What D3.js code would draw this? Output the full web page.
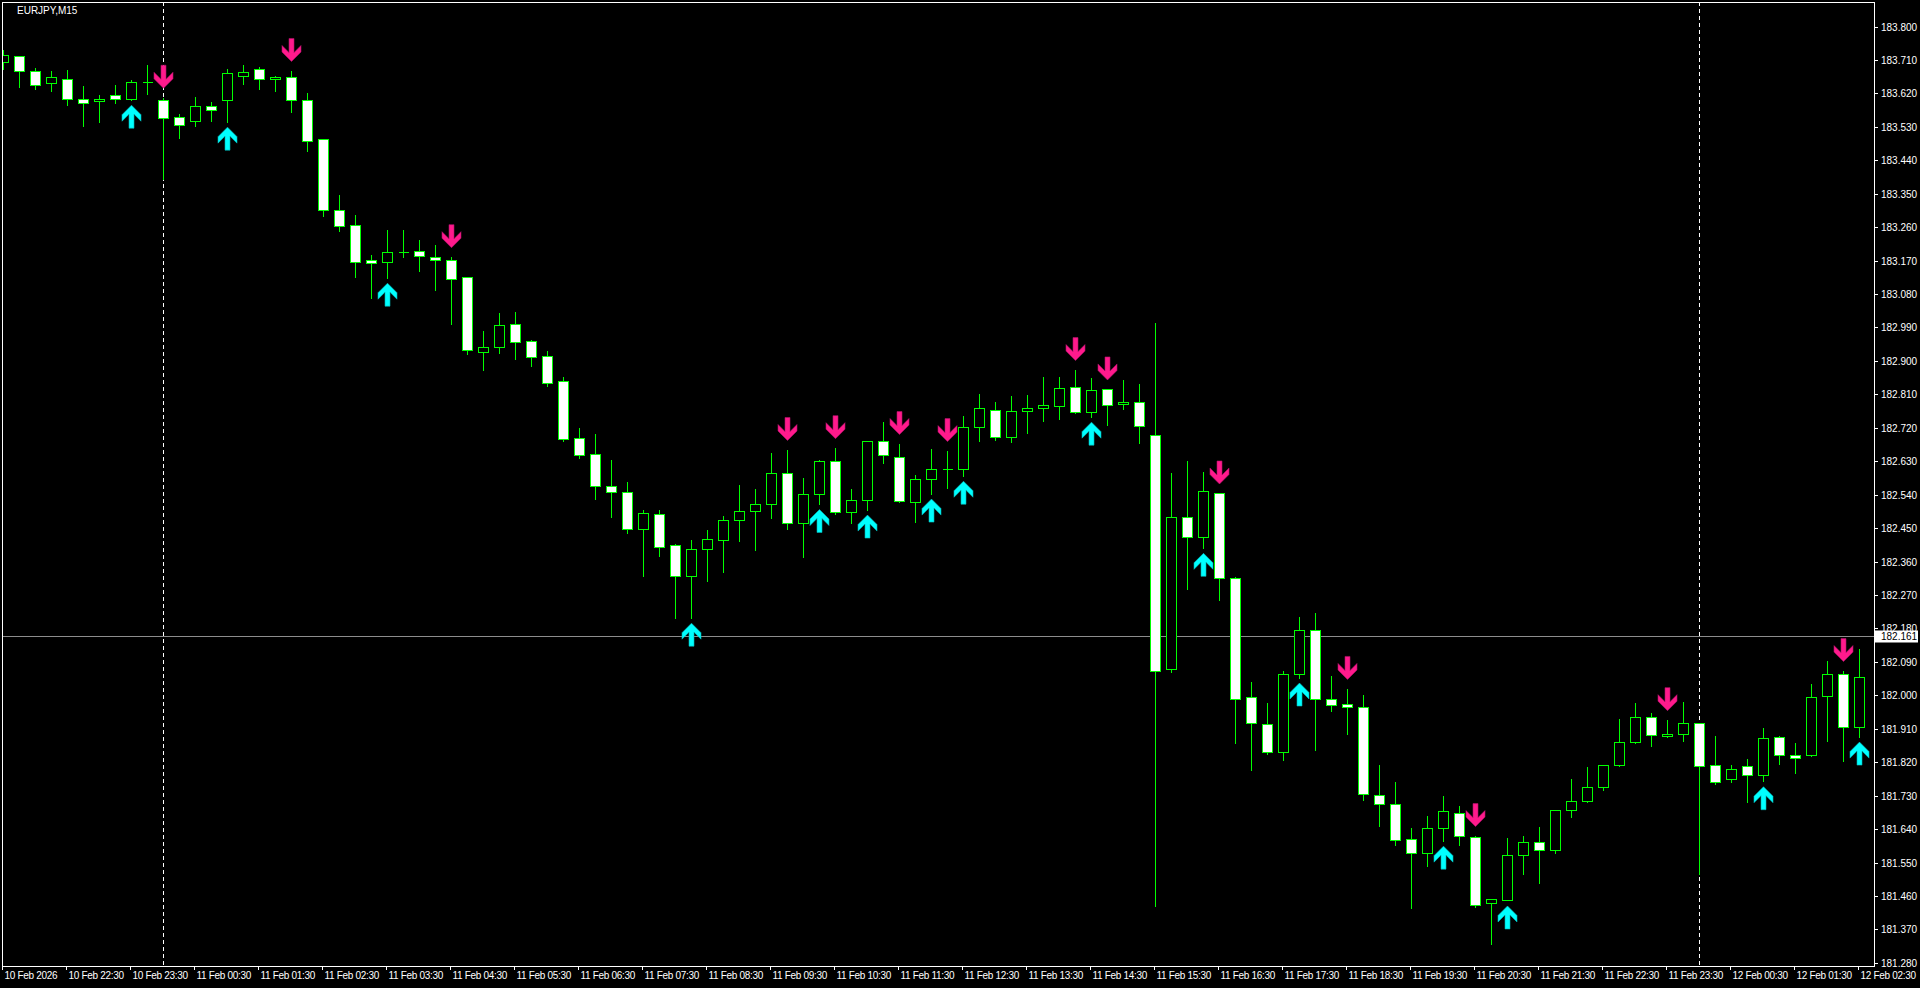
<!DOCTYPE html>
<html><head><meta charset="utf-8">
<script src="https://cdn.jsdelivr.net/npm/d3@7"></script>
<style>html,body{margin:0;padding:0;background:#000;overflow:hidden}svg{display:block}</style>
</head><body>
<svg id="c" width="1920" height="988"></svg>
<script>
const symbolLabel = "EURJPY,M15";
const opens = [183.704,183.721,183.679,183.647,183.658,183.604,183.599,183.615,183.604,183.650,183.601,183.556,183.545,183.585,183.603,183.666,183.685,183.658,183.663,183.601,183.496,183.305,183.265,183.171,183.165,183.194,183.195,183.179,183.171,183.125,182.925,182.938,182.999,182.953,182.913,182.845,182.692,182.649,182.563,182.547,182.449,182.487,182.404,182.322,182.395,182.417,182.471,182.495,182.514,182.598,182.463,182.541,182.630,182.493,182.525,182.684,182.642,182.520,182.582,182.608,182.608,182.721,182.767,182.696,182.765,182.773,182.778,182.829,182.762,182.824,182.783,182.789,182.700,182.070,182.479,182.425,182.544,182.315,181.995,181.922,181.847,182.057,182.175,181.990,181.976,181.968,181.731,181.707,181.613,181.575,181.642,181.683,181.618,181.441,181.449,181.570,181.605,181.583,181.691,181.715,181.753,181.812,181.874,181.941,181.890,181.895,181.925,181.812,181.774,181.809,181.785,181.887,181.839,181.839,181.998,182.057,181.914];
const highs = [183.739,183.723,183.691,183.683,183.686,183.643,183.618,183.645,183.658,183.699,183.611,183.567,183.613,183.600,183.688,183.699,183.694,183.669,183.683,183.624,183.497,183.349,183.295,183.188,183.255,183.255,183.228,183.215,183.182,183.129,182.983,183.032,183.034,182.959,182.929,182.859,182.722,182.706,182.636,182.577,182.502,182.502,182.410,182.421,182.448,182.485,182.569,182.558,182.655,182.663,182.588,182.636,182.668,182.558,182.687,182.738,182.679,182.596,182.666,182.660,182.755,182.814,182.792,182.808,182.811,182.859,182.859,182.878,182.857,182.826,182.851,182.841,183.004,182.601,182.633,182.605,182.546,182.322,182.039,181.982,182.068,182.214,182.224,182.055,182.020,182.004,181.815,181.770,181.646,181.678,181.732,181.705,181.624,181.452,181.619,181.624,181.649,181.692,181.778,181.810,181.815,181.939,181.982,181.955,181.936,181.985,181.927,181.893,181.815,181.831,181.915,181.893,181.874,182.033,182.095,182.068,182.128];
const lows = [183.685,183.638,183.633,183.627,183.590,183.533,183.544,183.595,183.603,183.619,183.389,183.501,183.533,183.547,183.544,183.645,183.633,183.627,183.571,183.466,183.291,183.251,183.127,183.069,183.124,183.181,183.143,183.092,183.000,182.919,182.876,182.922,182.906,182.887,182.833,182.685,182.640,182.529,182.481,182.438,182.322,182.376,182.209,182.209,182.309,182.333,182.416,182.392,182.478,182.449,182.371,182.515,182.489,182.465,182.500,182.626,182.520,182.467,182.543,182.559,182.591,182.685,182.688,182.683,182.707,182.739,182.745,182.761,182.750,182.728,182.771,182.680,181.432,182.062,182.285,182.397,182.256,181.873,181.798,181.843,181.825,182.048,181.854,181.957,181.897,181.719,181.649,181.597,181.429,181.542,181.609,181.596,181.431,181.332,181.448,181.518,181.496,181.577,181.672,181.713,181.746,181.811,181.873,181.865,181.889,181.878,181.519,181.761,181.766,181.714,181.769,181.815,181.792,181.838,181.876,181.823,181.889];
const closes = [183.723,183.681,183.643,183.663,183.604,183.593,183.604,183.604,183.650,183.650,183.553,183.534,183.585,183.574,183.675,183.678,183.658,183.664,183.601,183.491,183.305,183.264,183.165,183.163,183.192,183.194,183.182,183.171,183.120,182.929,182.938,182.996,182.952,182.910,182.841,182.691,182.648,182.564,182.547,182.449,182.490,182.399,182.321,182.393,182.420,182.471,182.495,182.514,182.598,182.465,182.541,182.630,182.493,182.525,182.684,182.646,182.522,182.582,182.608,182.608,182.721,182.773,182.696,182.765,182.773,182.781,182.826,182.762,182.821,182.781,182.789,182.724,182.065,182.479,182.425,182.549,182.317,181.990,181.925,181.847,182.057,182.175,181.990,181.973,181.968,181.734,181.707,181.610,181.575,181.642,181.688,181.621,181.435,181.451,181.570,181.605,181.583,181.691,181.715,181.753,181.812,181.874,181.941,181.893,181.895,181.925,181.809,181.766,181.801,181.785,181.885,181.839,181.831,181.995,182.057,181.914,182.049];
const upArrowBars = [8,14,24,43,51,54,58,60,68,75,81,90,94,110,116];
const downArrowBars = [10,18,28,49,52,56,59,67,69,76,84,92,104,115];
const daySeparatorBars = [10,106];
const priceTickLabels = ["183.800","183.710","183.620","183.530","183.440","183.350","183.260","183.170","183.080","182.990","182.900","182.810","182.720","182.630","182.540","182.450","182.360","182.270","182.180","182.090","182.000","181.910","181.820","181.730","181.640","181.550","181.460","181.370","181.280"];
const timeTickLabels = ["10 Feb 2026","10 Feb 22:30","10 Feb 23:30","11 Feb 00:30","11 Feb 01:30","11 Feb 02:30","11 Feb 03:30","11 Feb 04:30","11 Feb 05:30","11 Feb 06:30","11 Feb 07:30","11 Feb 08:30","11 Feb 09:30","11 Feb 10:30","11 Feb 11:30","11 Feb 12:30","11 Feb 13:30","11 Feb 14:30","11 Feb 15:30","11 Feb 16:30","11 Feb 17:30","11 Feb 18:30","11 Feb 19:30","11 Feb 20:30","11 Feb 21:30","11 Feb 22:30","11 Feb 23:30","12 Feb 00:30","12 Feb 01:30","12 Feb 02:30"];
const barsPerTimeLabel = 4;
const currentPrice = 182.161;

const FONT = "'Liberation Sans', Arial, sans-serif";
const svg = d3.select("#c");
svg.append("rect").attr("width",1920).attr("height",988).attr("fill","#000");

const frame = {l:2, t:2, r:1874, b:966};
const n = opens.length;
const x = d3.scaleLinear().domain([0, n-1]).range([3.5, 3.5 + 16*(n-1)]);
const y = d3.scaleLinear().domain([181.280, 183.800]).range([962.9, 26.5]);
const py = v => Math.round(y(v)) + 0.5;

svg.append("clipPath").attr("id","clip").append("rect")
  .attr("x",frame.l+1).attr("y",frame.t+1).attr("width",frame.r-frame.l-1).attr("height",frame.b-frame.t-1);
const plot = svg.append("g").attr("clip-path","url(#clip)");

// day separators
plot.selectAll("line.sep").data(daySeparatorBars).join("line")
  .attr("x1",d=>x(d)).attr("x2",d=>x(d)).attr("y1",frame.t).attr("y2",frame.b)
  .attr("stroke","#fff").attr("stroke-width",1).attr("stroke-dasharray","4,3");

// current price line
plot.append("line").attr("x1",frame.l).attr("x2",frame.r)
  .attr("y1",py(currentPrice)).attr("y2",py(currentPrice))
  .attr("stroke","#8c8c8c").attr("stroke-width",1);

const bars = d3.range(n);
// wicks
plot.selectAll("line.wick").data(bars).join("line")
  .attr("x1",i=>x(i)).attr("x2",i=>x(i))
  .attr("y1",i=>py(highs[i])).attr("y2",i=>py(lows[i]))
  .attr("stroke","#00ff00").attr("stroke-width",1).attr("shape-rendering","crispEdges");
// bodies
plot.selectAll("path.body").data(bars).join("path")
  .attr("d",i=>{
    const a = py(opens[i]), b = py(closes[i]);
    const t = Math.min(a,b), bt = Math.max(a,b);
    const c = x(i);
    return `M${c-5},${t}H${c+5}V${bt}H${c-5}Z`;
  })
  .attr("fill",i=> closes[i] < opens[i] ? "#fff" : "#000")
  .attr("stroke","#00ff00").attr("stroke-width",1).attr("shape-rendering","crispEdges");

// arrows
const upShape = "M0,0L9.5,9.5L9.5,16L2.5,9L2.5,23L-2.5,23L-2.5,9L-9.5,16L-9.5,9.5Z";
plot.selectAll("path.up").data(upArrowBars).join("path")
  .attr("d",upShape)
  .attr("transform",i=>`translate(${x(i)},${y(lows[i])+5.5})`)
  .attr("fill","#00ffff").attr("stroke","#00b4b4").attr("stroke-width",0.6);
plot.selectAll("path.dn").data(downArrowBars).join("path")
  .attr("d",upShape)
  .attr("transform",i=>`translate(${x(i)},${y(highs[i])-8.5}) scale(1,-1)`)
  .attr("fill","#ff1a8c").attr("stroke","#b0106a").attr("stroke-width",0.6);

// frame
svg.append("rect").attr("x",frame.l+0.5).attr("y",frame.t+0.5)
  .attr("width",frame.r-frame.l).attr("height",frame.b-frame.t)
  .attr("fill","none").attr("stroke","#fff").attr("stroke-width",1);

// price axis
const pa = svg.append("g");
priceTickLabels.forEach(lbl=>{
  const v = +lbl, yy = py(v);
  pa.append("line").attr("x1",frame.r+0.5).attr("x2",frame.r+4).attr("y1",yy).attr("y2",yy).attr("stroke","#fff");
  pa.append("text").attr("x",frame.r+7).attr("y",yy).attr("dy","0.35em")
    .attr("fill","#fff").attr("font-family",FONT).attr("font-size","10px").text(lbl);
});
// current price tag
const cy = py(currentPrice);
pa.append("rect").attr("x",frame.r+1).attr("y",cy-6).attr("width",43).attr("height",12).attr("fill","#fff");
pa.append("text").attr("x",frame.r+7).attr("y",cy).attr("dy","0.35em")
  .attr("fill","#000").attr("font-family",FONT).attr("font-size","10px").text(currentPrice.toFixed(3));

// time axis
const ta = svg.append("g");
timeTickLabels.forEach((lbl,j)=>{
  const xx = Math.round(x(j*barsPerTimeLabel)) - 1.5;
  ta.append("line").attr("x1",xx).attr("x2",xx).attr("y1",frame.b+0.5).attr("y2",frame.b+4).attr("stroke","#fff");
  ta.append("text").attr("x",xx+2).attr("y",979)
    .attr("fill","#fff").attr("font-family",FONT).attr("font-size","10px")
    .attr("letter-spacing","-0.3px").text(lbl);
});

// title
svg.append("text").attr("x",17).attr("y",14).attr("fill","#fff")
  .attr("font-family",FONT).attr("font-size","10px").text(symbolLabel);
</script>
</body></html>
